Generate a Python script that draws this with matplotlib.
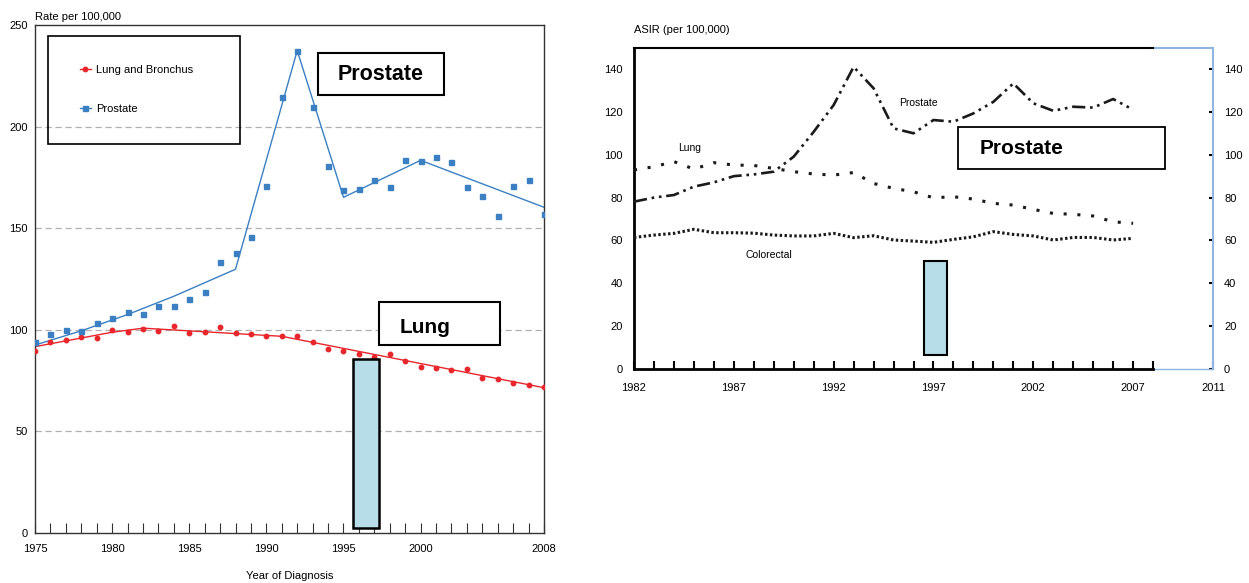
import numpy as np
import matplotlib
matplotlib.use('Agg')
import matplotlib.pyplot as plt
from matplotlib.patches import Rectangle
from matplotlib.lines import Line2D

plt.rcParams['font.family'] = ['Liberation Sans', 'DejaVu Sans']

# ---- left panel data (SEER style, 1975-2008)
years_l = list(range(1975, 2009))
lung_obs = [89.6, 93.8, 95.1, 96.5, 96.0, 99.9, 98.9, 100.5, 99.4, 102.0,
            98.4, 98.9, 101.5, 98.4, 97.9, 96.8, 96.8, 96.8, 93.8, 90.6,
            89.6, 88.1, 86.6, 88.1, 84.4, 81.8, 81.2, 80.2, 80.5, 76.1,
            75.6, 74.0, 72.8, 71.9]
prost_obs = [93.8, 97.9, 100.0, 99.4, 103.2, 106.0, 108.9, 107.9, 111.6, 111.6,
             115.2, 118.8, 133.4, 137.6, 145.5, 170.9, 214.7, 237.4, 209.5, 180.6,
             168.8, 169.4, 173.6, 170.4, 183.6, 183.1, 185.2, 182.4, 170.1, 165.7,
             156.0, 170.6, 173.6, 156.8]
# fitted trend lines (joinpoints)
lung_fit_x = [1975, 1980, 1982, 1991, 2008]
lung_fit_y = [91.7, 98.8, 100.8, 96.8, 71.5]
prost_fit_x = [1975, 1978, 1981, 1984, 1988, 1992, 1995, 2000, 2008]
prost_fit_y = [92.5, 99.5, 107.5, 116.5, 129.8, 237.4, 165.2, 183.4, 160.3]

# ---- right panel data (1982-2007)
years_r = list(range(1982, 2008))
prost_r = [78.1, 80.0, 81.2, 85.1, 87.1, 90.0, 90.8, 92.1, 99.1, 110.7,
           123.2, 141.0, 131.0, 112.3, 110.0, 116.2, 115.4, 119.3, 124.7, 133.3,
           124.0, 120.5, 122.4, 122.0, 126.0, 121.0]
lung_r = [92.9, 94.4, 96.8, 93.3, 96.3, 95.2, 95.0, 93.6, 92.1, 91.0,
          90.5, 91.7, 86.6, 84.3, 82.7, 79.9, 80.4, 79.3, 77.3, 76.5,
          74.5, 72.6, 72.2, 71.4, 68.7, 68.0]
colo_r = [61.4, 62.5, 63.3, 65.2, 63.6, 63.6, 63.4, 62.5, 62.1, 62.1,
          63.3, 61.3, 62.2, 60.2, 59.7, 59.1, 60.5, 61.7, 64.1, 62.8,
          62.1, 60.2, 61.4, 61.4, 60.2, 61.0]

red = '#e8262b'
blue = '#3a80c3'
boxblue = '#b7dde8'
narrow = ['Liberation Sans Narrow', 'Liberation Sans']

fig = plt.figure(figsize=(12.49, 5.83), dpi=100)

# ================= left panel
ax = fig.add_axes([35/1249, 1-533/583, 509/1249, 508/583])
ax.set_xlim(1975, 2008)
ax.set_ylim(0, 250)
for v in [50, 100, 150, 200]:
    ax.axhline(v, color='#b0b0b0', lw=0.9, ls=(0, (5, 3)), zorder=0)
ax.plot(lung_fit_x, lung_fit_y, color=red, lw=1.0, zorder=2)
ax.plot(years_l, lung_obs, 'o', color=red, ms=3.2, zorder=3)
ax.plot(prost_fit_x, prost_fit_y, color=blue, lw=1.0, zorder=2)
ax.plot(years_l, prost_obs, 's', color=blue, ms=3.6, zorder=3)

ax.set_xticks([1975, 1980, 1985, 1990, 1995, 2000, 2008])
ax.set_xticks(years_l, minor=True)
ax.tick_params(axis='x', which='both', direction='in', length=7, width=0.8,
               labelsize=8, pad=8, color='#333333')
ax.set_yticks([0, 50, 100, 150, 200, 250])
ax.tick_params(axis='y', length=0, labelsize=8, pad=5)
for s in ax.spines.values():
    s.set_linewidth(1.0)
    s.set_color('#333333')
ax.text(0.0, 1.005, 'Rate per 100,000', transform=ax.transAxes, fontsize=8,
        ha='left', va='bottom')
ax.set_xlabel('Year of Diagnosis', fontsize=8, labelpad=12)

# legend box
ax.add_patch(Rectangle((0.0255, 0.766), 0.3775, 0.212, transform=ax.transAxes,
                       fill=False, ec='black', lw=1.2, zorder=5))
handles = [Line2D([], [], color=red, marker='o', ms=3.2, lw=1.0),
           Line2D([], [], color=blue, marker='s', ms=3.6, lw=1.0)]
ax.legend(handles, ['Lung and Bronchus', 'Prostate'], loc='upper left',
          bbox_to_anchor=(0.088, 0.922), frameon=False, fontsize=8,
          handlelength=1.0, handletextpad=0.5, labelspacing=2.6,
          borderpad=0, borderaxespad=0)

# annotation boxes
ax.add_patch(Rectangle((1995.6, 2.6), 1.7, 83.0, fc=boxblue, ec='black',
                       lw=1.8, zorder=4))
ax.add_patch(Rectangle((0.556, 0.862), 0.2475, 0.0827, transform=ax.transAxes,
                       fc='white', ec='black', lw=1.5, zorder=5))
ax.text(0.595, 0.9035, 'Prostate', transform=ax.transAxes, fontsize=15.5,
        fontweight='bold', ha='left', va='center', zorder=6)
ax.add_patch(Rectangle((0.676, 0.370), 0.2377, 0.0846, transform=ax.transAxes,
                       fc='white', ec='black', lw=1.5, zorder=5))
ax.text(0.717, 0.405, 'Lung', transform=ax.transAxes, fontsize=15,
        fontweight='bold', ha='left', va='center', zorder=6)

# ================= right panel
bx = fig.add_axes([634/1249, 1-369/583, 579/1249, 321.4/583])
bx.set_xlim(1982, 2011)
bx.set_ylim(0, 150)
bx.plot(years_r, prost_r, color='#1a1a1a', lw=1.9,
        ls=(0, (5, 1.8, 1.0, 1.8, 1.0, 1.8)), zorder=3)
bx.plot(years_r, lung_r, color='#1a1a1a', lw=2.2, ls=(0, (1, 3.5)), zorder=3)
bx.plot(years_r, colo_r, color='#1a1a1a', lw=2.2, ls=(0, (0.8, 0.8)), zorder=3)

bx.text(1995.3, 124, 'Prostate', fontsize=7.5, ha='left', va='center', family=narrow)
bx.text(1984.2, 103, 'Lung', fontsize=7.5, ha='left', va='center', family=narrow)
bx.text(1987.6, 53, 'Colorectal', fontsize=7.5, ha='left', va='center', family=narrow)

bx.add_patch(Rectangle((1996.5, 6.5), 1.2, 44.0, fc=boxblue, ec='black',
                       lw=1.5, zorder=4))
bx.add_patch(Rectangle((0.559, 0.621), 0.358, 0.133, transform=bx.transAxes,
                       fc='white', ec='black', lw=1.3, zorder=5))
bx.text(0.5976, 0.685, 'Prostate', transform=bx.transAxes, fontsize=15,
        fontweight='bold', ha='left', va='center', zorder=6)

bx.set_xticks([1982, 1987, 1992, 1997, 2002, 2007, 2011])
bx.set_xticks(list(range(1982, 2009)), minor=True)
bx.tick_params(axis='x', which='both', direction='in', length=6, width=1.5,
               labelsize=8, pad=10)
bx.set_yticks(range(0, 141, 20))
bx.tick_params(axis='y', direction='in', length=3, width=1.5, labelsize=8,
               right=True, labelright=True, left=False, pad=8)
for lab in bx.get_xticklabels() + bx.get_yticklabels():
    lab.set_family(narrow)

bx.spines['left'].set_linewidth(2.0)
bx.spines['bottom'].set_linewidth(2.0)
bx.spines['bottom'].set_bounds(1982, 2008)
bx.spines['top'].set_linewidth(1.5)
bx.spines['top'].set_bounds(1982, 2008)
bx.spines['right'].set_color('#8fb6e0')
bx.spines['right'].set_linewidth(1.5)
bx.axhline(150, xmin=26/29, color='#8fb6e0', lw=1.5, clip_on=False)
bx.axhline(0, xmin=26/29, color='#8fb6e0', lw=1.0, clip_on=False)
bx.text(0.0, 1.04, 'ASIR (per 100,000)', transform=bx.transAxes, fontsize=8,
        ha='left', va='bottom', family=narrow)

fig.savefig('out.png', dpi=100)
